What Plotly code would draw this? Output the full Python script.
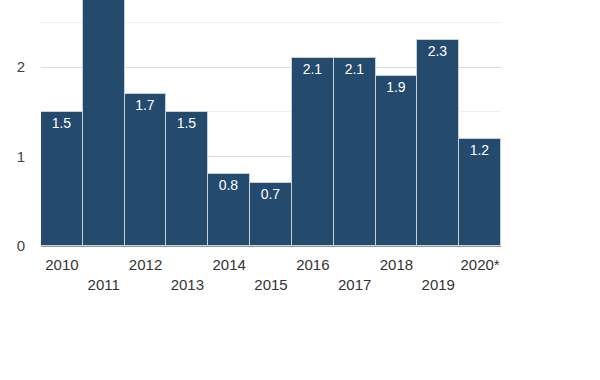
import plotly.graph_objects as go

years = ["2010", "2011", "2012", "2013", "2014", "2015", "2016", "2017", "2018", "2019", "2020*"]
values = [1.5, 3.3, 1.7, 1.5, 0.8, 0.7, 2.1, 2.1, 1.9, 2.3, 1.2]
y_max = 2.75
tick_labels = [y if i % 2 == 0 else "<br>" + y for i, y in enumerate(years)]
bar_text = [f"{v:.1f}" if v <= y_max else "" for v in values]

fig = go.Figure(go.Bar(
    x=years, y=values,
    text=bar_text,
    textposition="inside", insidetextanchor="end",
    textfont=dict(color="white", size=14, family="Arial, Liberation Sans, sans-serif"),
    marker=dict(color="#244a6e", line=dict(color="#c8d0da", width=1)),
    cliponaxis=True,
))
fig.update_layout(
    width=600, height=380, paper_bgcolor="white", plot_bgcolor="white",
    margin=dict(l=41, r=99, t=0, b=134),
    bargap=0, showlegend=False,
    font=dict(family="Arial, Liberation Sans, sans-serif", size=15, color="#333"),
)
fig.update_xaxes(tickvals=years, ticktext=tick_labels, showline=True, linecolor="#999",
                 linewidth=1, ticks="", tickfont=dict(size=15, color="#333"),
                 ticklabelstandoff=5)
fig.update_yaxes(range=[0, y_max], tickvals=[0, 1, 2], showgrid=True, gridcolor="#dcdcdc",
                 zeroline=False, ticks="", tickfont=dict(size=15, color="#444"),
                 minor=dict(dtick=0.5, showgrid=True, gridcolor="#efefef", tick0=0),
                 ticklabelstandoff=15)
fig.write_html("out.html", config={"displayModeBar": False},
               post_script="document.body.style.margin='0';")
